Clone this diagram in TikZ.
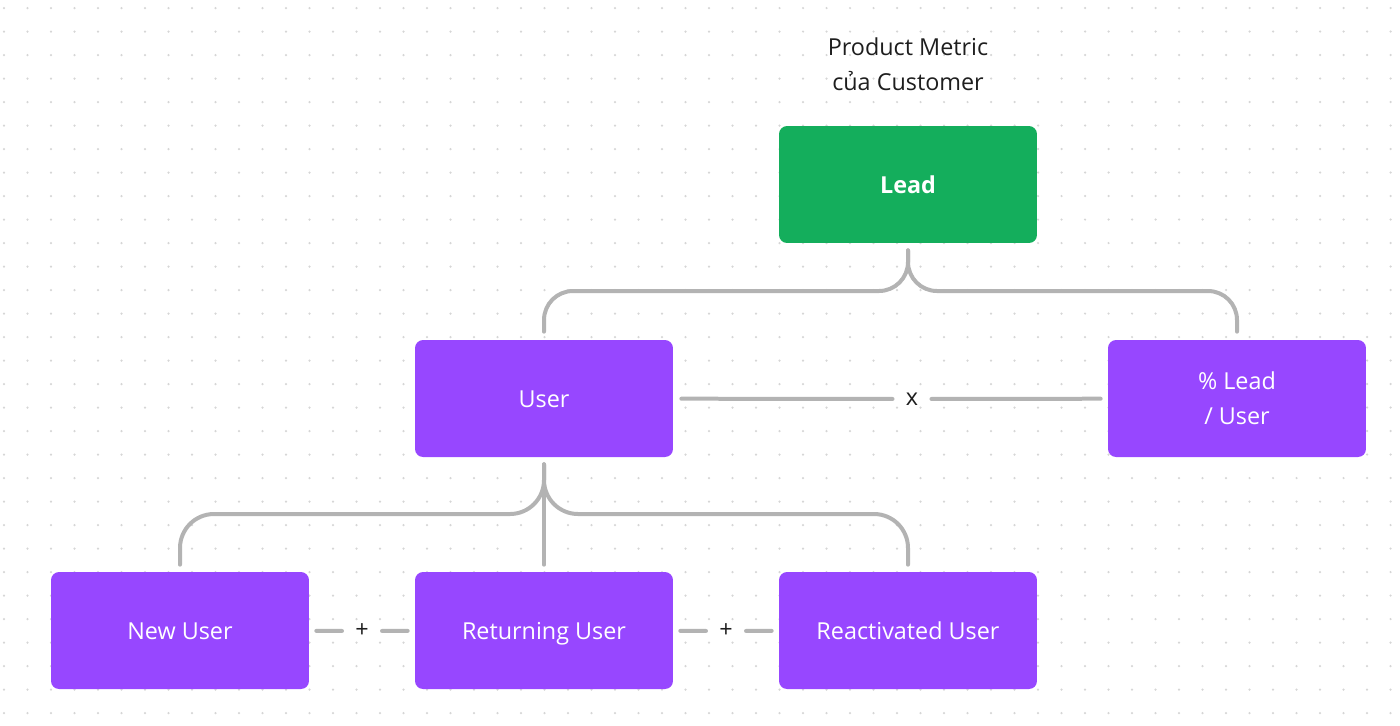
\documentclass[tikz,border=0pt]{standalone}
\usepackage{fontspec}
\setmainfont{Open Sans}
\usepackage{xcolor}
\usetikzlibrary{positioning}

\definecolor{leadgreen}{HTML}{14AE5C}
\definecolor{metricpurple}{HTML}{9747FF}
\definecolor{linkgray}{HTML}{B3B3B3}
\definecolor{dotgray}{HTML}{D6D6D6}
\definecolor{textdark}{HTML}{1E1E1E}

\newcommand{\boxstrut}{\rule[-5pt]{0pt}{20pt}}

\tikzset{
    metric/.style={fill=metricpurple, text=white, rounded corners=0.16cm,
        minimum width=5.16cm, minimum height=2.34cm, align=center,
        font=\fontsize{13.3}{20}\selectfont},
    oneline/.style={metric, execute at begin node=\boxstrut},
    leadbox/.style={oneline, fill=leadgreen, font=\fontsize{13.3}{20}\selectfont\bfseries},
    link/.style={draw=linkgray, line width=0.08cm, line cap=round},
    op/.style={text=textdark, inner xsep=0.26cm, inner ysep=0pt,
        font=\fontsize{13.3}{20}\selectfont}
}

\begin{document}
\begin{tikzpicture}[x=0.02cm, y=-0.02cm]
                        \useasboundingbox (0,0) rectangle (1400,725);
                        % dotted canvas
                        \foreach \i in {0,...,59}
                            \foreach \j in {0,...,30}
                                \fill[dotgray] (4+23.5*\i, 8+23.5*\j) circle (0.025cm);

                        \node (title) at (908, 64.5) [text=textdark, align=center,
                            font=\fontsize{13.3}{20}\selectfont] {Product Metric\\của Customer};
                        \node (lead) at (908, 184.5) [leadbox] {Lead};
                        \node (user) at (544, 398.5) [oneline] {User};
                        \node (rate) at (1237, 398.5) [metric] {\% Lead\\/ User};
                        \node (new) at (180, 630.5) [oneline] {New User};
                        \node (ret) at (544, 630.5) [oneline] {Returning User};
                        \node (react) at (908, 630.5) [oneline] {Reactivated User};

                        \node (times) at (912, 399) [op] {x};
                        \node (plusa) at (362, 631) [op] {+};
                        \node (plusb) at (726, 631) [op] {+};

                        \coordinate (topfork) at (908, 291);
                        \coordinate (lowfork) at (544, 514);

                        % braces
                        \draw[link, rounded corners=0.58cm]
                        ([yshift=-0.14cm]lead.south) -- (topfork) -| ([yshift=0.16cm]user.north);
                        \draw[link, rounded corners=0.58cm]
                        ([yshift=-0.14cm]lead.south) -- (topfork) -| ([yshift=0.16cm]rate.north);
                        \draw[link, rounded corners=0.68cm]
                        ([yshift=-0.14cm]user.south) -- (lowfork) -| ([yshift=0.14cm]new.north);
                        \draw[link, rounded corners=0.68cm]
                        ([yshift=-0.14cm]user.south) -- (lowfork) -| ([yshift=0.14cm]react.north);
                        \draw[link] ([yshift=-0.14cm]user.south) -- ([yshift=0.14cm]ret.north);

                        % operators
                        \draw[link]
                        (user) edge [shorten <=0.16cm] (times)
                        (times) edge [shorten >=0.14cm] (rate)
                        (new) edge [shorten <=0.14cm] (plusa)
                        (plusa) edge [shorten >=0.14cm] (ret)
                        (ret) edge [shorten <=0.14cm] (plusb)
                        (plusb) edge [shorten >=0.14cm] (react);
                    \end{tikzpicture}
\end{document}
